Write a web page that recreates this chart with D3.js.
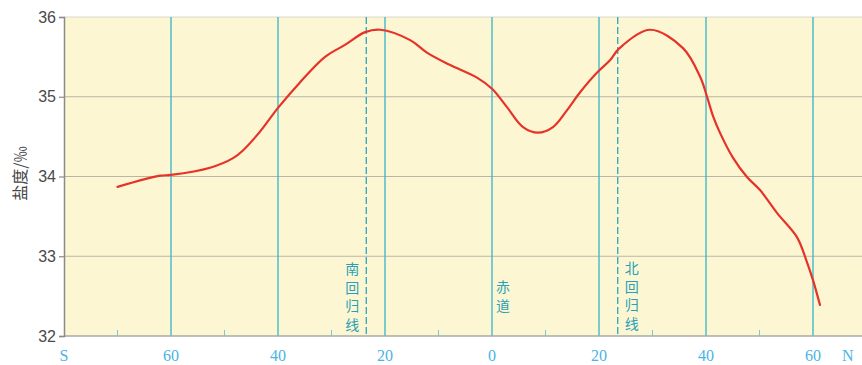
<!DOCTYPE html>
<html><head><meta charset="utf-8">
<script src="https://cdn.jsdelivr.net/npm/d3@7"></script>
<style>body{margin:0;background:#fff}svg{display:block}</style>
</head><body>
<svg id="c" width="862" height="365"></svg>
<script>
// Latitude (S negative, N positive) and salinity (‰)
const latitudes = [-70,-62,-60,-52.7,-48.4,-46.5,-43.4,-40,-35.9,-31.2,-27.5,-23.7,-20.9,-15.3,-12.1,-7.9,-2.8,0,2.8,5.8,8.6,11.4,14,16.4,19.6,22.1,23.7,29.5,35.7,38.9,40.2,41.3,42.6,45,47.7,50.1,53.3,57,58.9,60,61.3];
const salinity  = [33.87,34.01,34.02,34.11,34.23,34.33,34.56,34.86,35.18,35.50,35.65,35.81,35.84,35.71,35.55,35.40,35.24,35.10,34.87,34.62,34.55,34.62,34.83,35.05,35.30,35.46,35.60,35.84,35.61,35.25,35.00,34.76,34.55,34.24,33.99,33.83,33.54,33.24,32.92,32.70,32.39];
const yTicks = [32,33,34,35,36];
const majorLats = [-60,-40,-20,0,20,40,60];
const minorLats = [-70,-50,-30,-10,10,30,50];
const xLabelLats = [-80,-60,-40,-20,0,20,40,60,66.5];
const xLabels = ["S","60","40","20","0","20","40","60","N"];
const tropics = [-23.5, 23.5];
const tropicNames = ["南回归线","北回归线"];
const equatorName = "赤道";
const yTitle = "盐度/‰";

const svg = d3.select("#c");
const x = d3.scaleLinear().domain([-80, 80]).range([64, 920]);
const y = d3.scaleLinear().domain([32, 36]).range([336, 17]);
const W = 862;

// background
svg.append("rect").attr("x", x(-80)).attr("y", y(36)).attr("width", W - x(-80)).attr("height", y(32) - y(36)).attr("fill", "#fcf7d2");

// horizontal grid
svg.append("g").selectAll("line").data(yTicks.filter(d => d > 32)).join("line")
  .attr("x1", x(-80)).attr("x2", W).attr("y1", d => y(d)).attr("y2", d => y(d))
  .attr("stroke", d => d === 36 ? "#d8d6cc" : "#b9b6a4").attr("stroke-width", 1);

// vertical major lines
const cyan = "#35b4cc";
svg.append("g").selectAll("line").data(majorLats).join("line")
  .attr("x1", d => x(d)).attr("x2", d => x(d)).attr("y1", y(36)).attr("y2", y(32))
  .attr("stroke", cyan).attr("stroke-width", 1.3);

// tropic dashed lines
svg.append("g").selectAll("line").data(tropics).join("line")
  .attr("x1", d => x(d)).attr("x2", d => x(d)).attr("y1", y(36)).attr("y2", y(32))
  .attr("stroke", "#2aa6c0").attr("stroke-width", 1.3).attr("stroke-dasharray", "7,3");

// minor ticks
svg.append("g").selectAll("line").data(minorLats).join("line")
  .attr("x1", d => x(d)).attr("x2", d => x(d)).attr("y1", y(32) - 6).attr("y2", y(32))
  .attr("stroke", "#7cc8d8").attr("stroke-width", 1);

// bottom axis line
svg.append("line").attr("x1", x(-80)).attr("x2", W).attr("y1", y(32)).attr("y2", y(32))
  .attr("stroke", "#a9a9a9").attr("stroke-width", 1.5);

// left axis
const yAxis = d3.axisLeft(y).tickValues(yTicks).tickSize(5).tickPadding(3).tickFormat(d3.format("d"));
const ga = svg.append("g").attr("transform", `translate(${x(-80)},0)`).call(yAxis);
ga.select(".domain").attr("stroke", "#8a8a8a").attr("stroke-width", 1.5);
ga.selectAll(".tick line").attr("stroke", "#8a8a8a").attr("stroke-width", 1.2);
ga.selectAll(".tick text").attr("fill", "#4a4a4a").attr("font-size", 16).attr("font-family", "Liberation Sans, Arial, sans-serif");

// y title
svg.append("text").attr("transform", `translate(19,${(y(32)+y(36))/2 - 3}) rotate(-90)`)
  .attr("text-anchor", "middle").attr("dominant-baseline", "central").attr("font-size", 16).attr("fill", "#444")
  .attr("font-family", "Noto Sans CJK SC, sans-serif").text(yTitle);

// x labels
svg.append("g").selectAll("text").data(xLabelLats).join("text")
  .attr("x", d => x(d)).attr("y", 361).attr("text-anchor", "middle")
  .attr("font-size", 16).attr("fill", "#4ab4e4")
  .attr("font-family", "Liberation Serif, DejaVu Serif, serif")
  .text((d, i) => xLabels[i]);

// curve
const pts = latitudes.map((d, i) => [d, salinity[i]]);
svg.append("path").datum(pts)
  .attr("d", d3.line().x(d => x(d[0])).y(d => y(d[1])).curve(d3.curveCatmullRom.alpha(0.5)))
  .attr("fill", "none").attr("stroke", "#e63228").attr("stroke-width", 2.2).attr("stroke-linecap", "round");

// vertical labels
function vlabel(str, cx, yStart) {
  const g = svg.append("g");
  g.selectAll("text").data(Array.from(str)).join("text")
    .attr("x", cx).attr("y", (d, i) => yStart + i * 18.7)
    .attr("text-anchor", "middle").attr("dominant-baseline", "central")
    .attr("font-size", 14).attr("fill", "#2a9fb8")
    .attr("font-family", "Noto Sans CJK SC, sans-serif").text(d => d);
}
vlabel(tropicNames[0], x(tropics[0]) - 14, 268);
vlabel(equatorName, x(0) + 11, 286);
vlabel(tropicNames[1], x(tropics[1]) + 14, 267);
</script>
</body></html>
